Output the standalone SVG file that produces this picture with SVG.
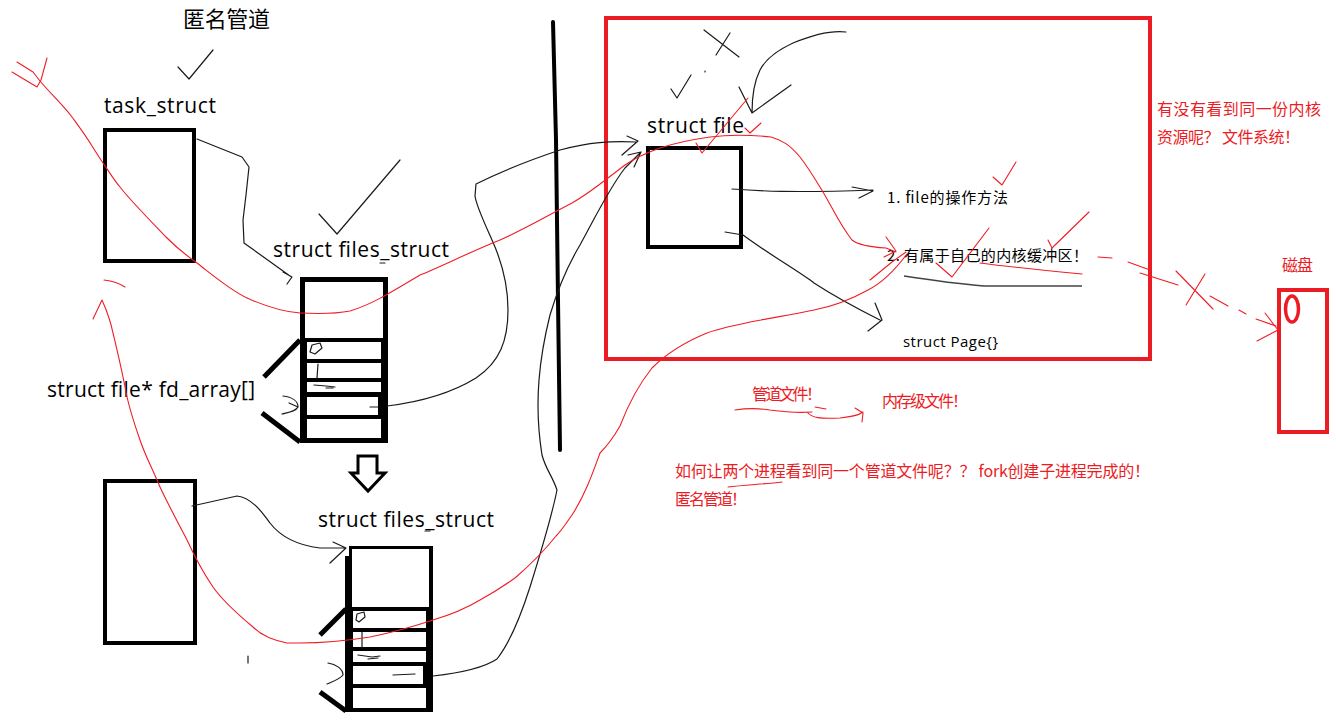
<svg xmlns="http://www.w3.org/2000/svg" width="1336" height="720" viewBox="0 0 1336 720">
<defs>
<style>
.lat{font-family:"Open Sans","Noto Sans","Noto Sans CJK SC",sans-serif;fill:#000}
.cjk{font-family:"Noto Sans CJK SC","Noto Sans",sans-serif;fill:#000}
.red{font-family:"Noto Sans CJK SC","Noto Sans",sans-serif;fill:#ec1c24}
.box{fill:#fff;stroke:#000;stroke-width:4}
.thin{fill:none;stroke:#1a1a1a;stroke-width:1.2;stroke-linecap:round;stroke-linejoin:round}
.rl{fill:none;stroke:#f01c24;stroke-width:1.1;stroke-linecap:round;stroke-linejoin:round}
.rb{fill:none;stroke:#ec1c24;stroke-width:4}
.cell{fill:#fff;stroke:none}
</style>
</defs>
<rect width="1336" height="720" fill="#fff"/>

<!-- left column -->
<g id="title">
<text class="cjk" x="183" y="27" font-size="22" textLength="87">匿名管道</text>
<path class="thin" d="M178,67 L189,79 L213,50"/>
</g>

<g id="task1">
<text class="lat" x="104" y="113" font-size="21" textLength="112">task_struct</text>
<rect class="box" x="105" y="130" width="89" height="131"/>
</g>

<g id="files1">
<path class="thin" d="M319,214 L337,234 L400,160"/>
<text class="lat" x="273" y="257" font-size="21" textLength="176">struct files_struct</text>
<rect x="300" y="277" width="88" height="166" fill="#000"/>
<rect class="cell" x="305" y="282" width="78" height="56"/>
<rect class="cell" x="307" y="342" width="74" height="17"/>
<rect class="cell" x="307" y="363" width="74" height="15"/>
<rect class="cell" x="307" y="382" width="74" height="10"/>
<rect class="cell" x="307" y="397" width="71" height="18"/>
<rect class="cell" x="307" y="419" width="74" height="19"/>
<path d="M300,340 L264,377" stroke="#000" stroke-width="5" fill="none"/>
<path d="M262,413 L300,442" stroke="#000" stroke-width="5" fill="none"/>
<path class="thin" d="M310,352 L312,345 L320,343 L322,348 L315,354 Z"/>
<path class="thin" d="M318,364 L317,378"/>
<path class="thin" d="M314,385 L326,386 L335,387 M326,388 L333,388"/>
<path class="thin" d="M370,407 L378,407"/>
<path class="thin" d="M283,396 C292,397 298,401 298,407 C296,411 290,412 282,414 M289,403 L298,407"/>
<path class="thin" d="M380,263 L385,263"/>
</g>

<g id="fdlabel">
<text class="lat" x="47" y="397" font-size="21" textLength="208">struct file* fd_array[]</text>
</g>

<g id="downarrow">
<path d="M358,456 L377,456 L377,473 L385,473 L368,491 L351,473 L358,473 Z" fill="#fff" stroke="#000" stroke-width="3" stroke-linejoin="miter"/>
</g>

<g id="task2">
<rect class="box" x="105" y="481" width="90" height="162"/>
<path class="thin" d="M248,656 L248,663"/>
</g>

<g id="files2">
<text class="lat" x="318" y="527" font-size="21" textLength="176">struct files_struct</text>
<rect x="345" y="546" width="88" height="166" fill="#000"/>
<rect class="cell" x="352" y="549" width="77" height="58"/>
<rect class="cell" x="353" y="611" width="73" height="17"/>
<rect class="cell" x="353" y="632" width="73" height="15"/>
<rect class="cell" x="353" y="651" width="73" height="11"/>
<rect class="cell" x="353" y="666" width="70" height="18"/>
<rect class="cell" x="353" y="688" width="73" height="20"/>
<rect x="344" y="546" width="5" height="10" fill="#fff"/>
<path d="M346,609 L320,635" stroke="#000" stroke-width="5" fill="none"/>
<path d="M320,692 L346,711" stroke="#000" stroke-width="5" fill="none"/>
<path class="thin" d="M356,620 L357,614 L364,612 L365,617 L359,622 Z"/>
<path class="thin" d="M362,632 L362,648"/>
<path class="thin" d="M358,655 L372,657 L380,656 M368,659 L378,658"/>
<path class="thin" d="M393,675 L415,674"/>
<path class="thin" d="M328,663 C336,664 343,669 343,675 C340,679 334,681 327,684"/>
<path class="thin" d="M425,531 L430,531"/>
</g>

<!-- divider -->
<g id="divider">
<path d="M553,22 L556,140 L558,300 L560,450" stroke="#000" stroke-width="4" fill="none" stroke-linecap="round"/>
</g>

<!-- kernel area -->
<g id="kernel">
<rect class="rb" x="606" y="18" width="544" height="341"/>
<path class="thin" d="M704,30 L739,57 M730,33 L716,55"/>
<path class="thin" d="M671,89 L677,98 L691,75 M705,71 L705,72"/>
<path class="thin" d="M846,32 C830,30 810,36 793,43 C778,50 766,58 760,70 C754,82 752,98 752,113 L791,85 M739,87 L752,113"/>
<text class="lat" x="647" y="133" font-size="21" textLength="97">struct file</text>
<rect class="box" x="648" y="148" width="93" height="99"/>
<text class="cjk" x="887" y="203" font-size="15" textLength="121">1. file的操作方法</text>
<text class="cjk" x="887" y="261" font-size="15" textLength="201">2. 有属于自己的内核缓冲区！</text>
<text class="lat" x="903" y="347" font-size="15" textLength="95">struct Page{}</text>
<path d="M904,276 C930,280 960,284 984,286 L1082,286" fill="none" stroke="#444" stroke-width="1.5"/>
</g>

<g id="disk">
<text class="red" x="1157" y="115" font-size="16" textLength="164">有没有看到同一份内核</text>
<text class="red" x="1157" y="143" font-size="16" textLength="143">资源呢？ 文件系统！</text>
<text class="red" x="1282" y="271" font-size="16" textLength="31">磁盘</text>
<rect class="rb" x="1279" y="290" width="48" height="142"/>
<ellipse cx="1292" cy="309" rx="6.5" ry="13" fill="none" stroke="#ec1c24" stroke-width="3.5"/>
</g>

<g id="notes">
<text class="red" x="752" y="400" font-size="16" textLength="70">管道文件！</text>
<text class="red" x="882" y="407" font-size="16" textLength="86">内存级文件！</text>
<text class="red" x="675" y="477" font-size="16" textLength="475">如何让两个进程看到同一个管道文件呢？？ fork创建子进程完成的！</text>
<text class="red" x="675" y="505" font-size="16" textLength="72">匿名管道！</text>
</g>

<!-- connectors -->
<g id="connectors">
<!-- black -->
<path class="thin" d="M197,139 L242,157 L249,167 L246,195 L243,220 L244,243 L290,276 M283,272 L292,277 L287,284"/>
<path class="thin" d="M732,189 C760,191 790,193 873,190 M852,187 L873,191 L859,198"/>
<path class="thin" d="M725,232 L743,235 C770,255 800,272 814,283 C840,300 860,310 880,320 M875,303 L882,320 L868,331"/>
<path class="thin" d="M387,406 C420,402 450,394 476,378 C500,362 508,340 508,310 C508,285 502,262 492,240 C484,222 476,205 475,196 L476,184 C500,172 530,160 560,150 C590,142 610,141 636,142 M627,136 L638,141 L622,155"/>
<path class="thin" d="M433,676 C460,673 485,667 497,659 C512,640 522,612 530,587 C540,555 552,515 557,490 C552,475 546,470 542,455 C538,430 537,405 539,380 C541,355 545,335 550,315 C556,295 565,270 580,245 C595,218 608,190 625,168 L641,152 M628,155 L641,152 L634,167"/>
<path class="thin" d="M192,506 L237,496 C252,498 262,512 270,523 C280,536 295,545 320,548 L346,548 M333,542 L346,548 L330,563"/>
<!-- red -->
<path class="rl" d="M17,62 L33,72 L40,81 C50,93 62,104 72,117 C80,128 86,136 92,146 C97,154 101,160 103,163 C110,173 114,180 120,187 C130,200 140,210 167,238 C180,251 190,258 197,263 C215,277 230,290 247,298 C265,306 285,312 300,313 C320,314 335,314 350,311 C370,305 385,296 420,275 C440,267 470,252 500,240 C525,229 545,217 572,203 C590,193 605,180 625,165 C635,158 646,153 660,148 C675,143 689,140 710,137 C725,135 743,134 771,137 C782,140 790,145 800,157 C807,166 814,177 823,192 C832,207 840,225 852,240 C858,245 868,247 886,248 L896,252 M886,237 L896,251 L884,257"/>
<path class="rl" d="M12,72 L37,87 L41,80 L47,58"/>
<path class="rl" d="M907,254 C895,270 880,284 868,290 C850,300 830,307 814,310 C790,315 770,318 761,320 C740,324 720,328 707,333 C685,342 665,355 652,368 C640,383 628,405 620,426 C612,440 605,448 600,453 C592,475 585,495 572,515 C565,525 562,530 556,536 C545,550 530,565 515,578 C505,585 498,590 480,600 C465,609 450,615 433,620 C415,626 395,632 370,637 C345,641 320,643 300,643 L287,643 C272,640 260,634 253,627 C235,612 222,600 213,587 C200,568 193,553 187,540 C175,517 167,502 160,487 C152,468 145,455 140,440 C133,420 130,410 127,397 C122,370 117,350 113,333 C110,318 106,309 102,300 L93,319"/>
<path class="rl" d="M104,280 C112,281 119,283 125,287"/>
<path class="rl" d="M696,143 L702,153 L748,98"/>
<path class="rl" d="M745,128 L750,133 L761,123"/>
<path class="rl" d="M993,177 L1002,185 L1016,162"/>
<path class="rl" d="M870,280 L892,262 L906,252"/>
<path class="rl" d="M936,263 L952,277 L989,228"/>
<path class="rl" d="M1048,240 L1052,248 L1089,212"/>
<path class="rl" d="M980,263 C1010,267 1040,270 1082,274"/>
<path class="rl" d="M1098,257 L1112,258 M1128,262 L1150,270 M1140,273 L1178,285 M1210,296 L1228,306 M1239,310 L1246,314 M1256,319 L1276,326"/>
<path class="rl" d="M1176,271 L1213,309 M1205,274 L1186,305"/>
<path class="rl" d="M1265,313 L1278,330 L1257,341"/>
<path class="rl" d="M735,410 C748,408 758,408 770,410 C785,412 797,413 812,412 M807,412 C812,418 820,419 840,418 C850,417 858,416 863,412 M855,408 L863,413 L862,422 M815,407 L826,409"/>
<path class="rl" d="M728,487 C745,485 765,484 782,482"/>
</g>
</svg>
